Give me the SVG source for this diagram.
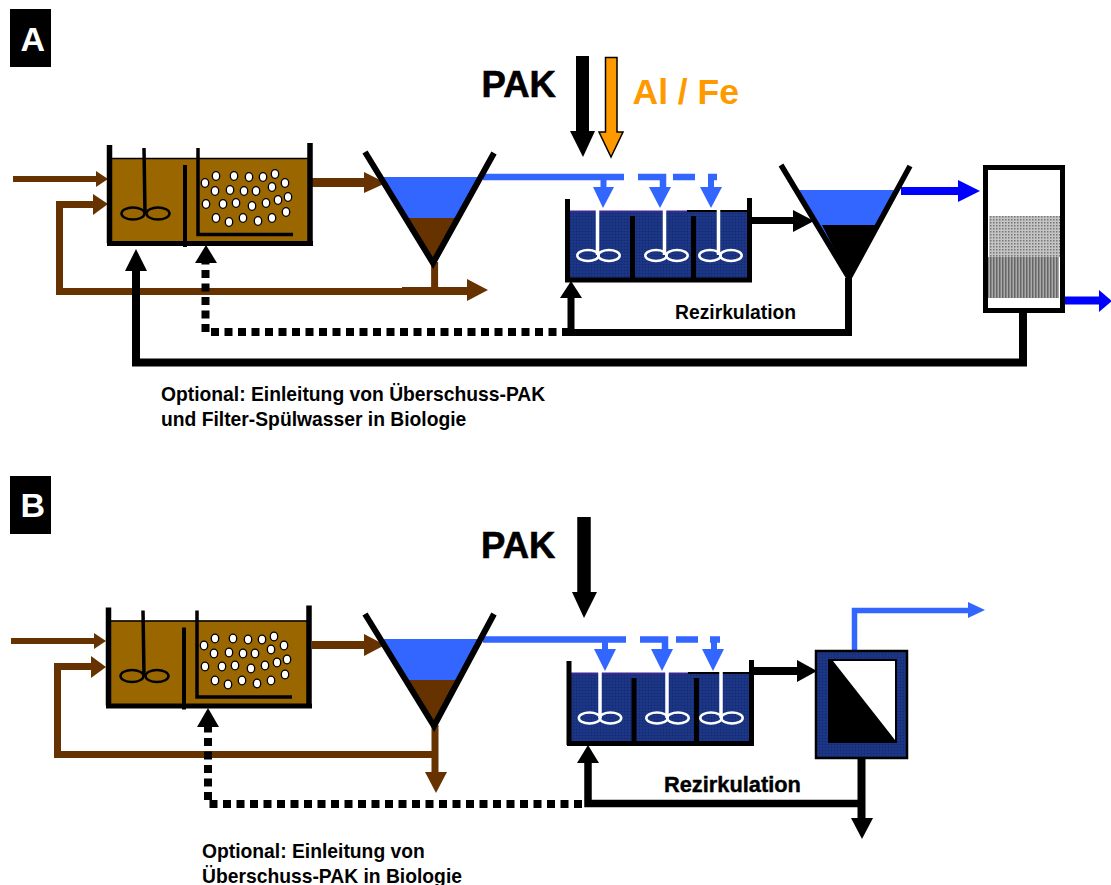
<svg xmlns="http://www.w3.org/2000/svg" width="1111" height="885" viewBox="0 0 1111 885">
<style>
text{font-family:"Liberation Sans",Arial,sans-serif;font-weight:bold;fill:#000}
.big{font-size:36.500px;stroke:#000;stroke-width:.6px}.sm{font-size:19.300px}.cap{font-size:34px;fill:#fff}.rz{font-size:19.300px}
.rzb{font-size:21.800px;stroke:#000;stroke-width:.4px}
.k{fill:none;stroke:#000}
.br{fill:none;stroke:#663300}
.bl{fill:none;stroke:#3366ff}
.wht{fill:none;stroke:#fff;stroke-width:3.500}
.fb{fill:#663300}.fl{fill:#3366ff}.fu{fill:#0000ff}
</style>
<defs>
<pattern id="nv" width="3" height="3" patternUnits="userSpaceOnUse"><rect width="3" height="3" fill="#1a3380"/><rect width="1" height="1" fill="#0f2a78"/><rect x="1.500" y="1.500" width="1" height="1" fill="#27408f"/></pattern>
<pattern id="dots" width="3" height="3" patternUnits="userSpaceOnUse"><rect width="3" height="3" fill="#c4c4c4"/><rect width="1.500" height="1.500" fill="#777"/></pattern>
<pattern id="stripes" width="3" height="3" patternUnits="userSpaceOnUse"><rect width="3" height="3" fill="#aaa"/><rect width="1.500" height="3" fill="#666"/></pattern>
<g id="bio">
<rect x="111" y="158" width="199" height="84" fill="#996600"/>
<path d="M111 158.500H309" stroke="#000" stroke-width="1.500" fill="none"/>
<path class="k" stroke-width="5.500" d="M109.500 145V243M310 143V243"/>
<path class="k" stroke-width="5" d="M107 243.500H313"/>
<path class="k" stroke-width="3.500" d="M144 148L145 214"/>
<ellipse cx="133" cy="213.500" rx="11.500" ry="6" fill="none" stroke="#000" stroke-width="2.500"/>
<ellipse cx="158" cy="213.500" rx="11.500" ry="6" fill="none" stroke="#000" stroke-width="2.500"/>
<path class="k" stroke-width="4" d="M185 165V247"/>
<path class="k" stroke-width="3.500" d="M198 148V234.500H293"/>
<g fill="#fff" stroke="#000" stroke-width="1.300">
<ellipse cx="216" cy="176" rx="3.700" ry="4.300"/><ellipse cx="234" cy="176" rx="3.700" ry="4.300"/><ellipse cx="249" cy="177" rx="3.700" ry="4.300"/><ellipse cx="263" cy="177" rx="3.700" ry="4.300"/><ellipse cx="275" cy="174" rx="3.700" ry="4.300"/><ellipse cx="205" cy="183" rx="3.700" ry="4.300"/><ellipse cx="285" cy="183" rx="3.700" ry="4.300"/><ellipse cx="215" cy="191" rx="3.700" ry="4.300"/><ellipse cx="230" cy="190" rx="3.700" ry="4.300"/><ellipse cx="244" cy="191" rx="3.700" ry="4.300"/><ellipse cx="256" cy="191" rx="3.700" ry="4.300"/><ellipse cx="272" cy="187" rx="3.700" ry="4.300"/><ellipse cx="206" cy="204" rx="3.700" ry="4.300"/><ellipse cx="223" cy="204" rx="3.700" ry="4.300"/><ellipse cx="236" cy="203" rx="3.700" ry="4.300"/><ellipse cx="252" cy="206" rx="3.700" ry="4.300"/><ellipse cx="266" cy="203" rx="3.700" ry="4.300"/><ellipse cx="278" cy="200" rx="3.700" ry="4.300"/><ellipse cx="288" cy="197" rx="3.700" ry="4.300"/><ellipse cx="286" cy="212" rx="3.700" ry="4.300"/><ellipse cx="216" cy="218" rx="3.700" ry="4.300"/><ellipse cx="229" cy="222" rx="3.700" ry="4.300"/><ellipse cx="243" cy="218" rx="3.700" ry="4.300"/><ellipse cx="258" cy="221" rx="3.700" ry="4.300"/><ellipse cx="272" cy="218" rx="3.700" ry="4.300"/>
</g>
</g>
<g id="pad"><ellipse cx="-10.500" cy="0" rx="10.700" ry="5.500" fill="none" stroke="#fff" stroke-width="2.500"/><ellipse cx="10.500" cy="0" rx="10.700" ry="5.500" fill="none" stroke="#fff" stroke-width="2.500"/></g>
</defs>
<rect width="1111" height="885" fill="#fff"/>

<g id="label-a"><rect x="10" y="9" width="41" height="58" fill="#000"/><text class="cap" x="20.500" y="51">A</text></g>
<g id="label-b"><rect x="10" y="476" width="41" height="58" fill="#000"/><text class="cap" x="20.500" y="517">B</text></g>

<g id="connectors">
<!-- panel A -->
<path class="br" stroke-width="6" d="M13 179H100"/>
<path class="br" stroke-width="7" d="M97 204.500H59.500V291.500H470"/>
<path class="br" stroke-width="9" d="M312 182.500H368"/>
<path class="br" stroke-width="7" d="M434.600 262V291"/>
<path class="br" stroke-width="8" d="M402 291H470"/>
<path d="M108 179L96 171V187Z" class="fb"/>
<path d="M108 204L93 194V215Z" class="fb"/>
<path d="M386 183L364 172V193Z" class="fb"/>
<path d="M488 290L467 279V301Z" class="fb"/>
<path class="k" stroke-width="8" d="M1023 311V362.500H136V268"/>
<path d="M136 249L125 271H147Z"/>
<path class="k" stroke-width="8" stroke-dasharray="8 5.500" d="M570 332H205.500V262"/>
<path d="M206 245L195 263H217Z"/>
<path class="k" stroke-width="7" d="M848.500 278V332.500H567"/>
<path class="k" stroke-width="7" d="M571 332V296"/>
<path d="M571 281L560 298H582Z"/>
<path class="k" stroke-width="7" d="M752 220.500H798"/>
<path d="M814 221L793 210V232Z"/>
<path stroke="#0000ff" stroke-width="8" fill="none" d="M901 191H960"/>
<path d="M980 191L958 180V202Z" class="fu"/>
<path stroke="#0000ff" stroke-width="8" fill="none" d="M1064 300.500H1101"/>
<path d="M1112 301L1099 290V312Z" class="fu"/>
<path class="bl" stroke-width="6.500" d="M483 177H624M638 177H663V190M673 177H695M708 177H717"/>
<path class="bl" stroke-width="6" d="M603.500 178V190M711 176V190"/>
<path d="M603 208L593 187H614Z" class="fl"/><path d="M660 208L649 187H671Z" class="fl"/><path d="M711 208L700 187H722Z" class="fl"/>
<path stroke="#000" stroke-width="13" fill="none" d="M582.500 56V133"/>
<path d="M583 157L570 131H595Z"/>
<path d="M605.500 57.500H617V132H623L611 157L599 132H605.500Z" fill="#ff9900" stroke="#000" stroke-width="1.500"/>

<!-- panel B -->
<path class="br" stroke-width="6" d="M11 641H98"/>
<path class="br" stroke-width="7" d="M95 666.500H57.500V754.500H435"/>
<path class="br" stroke-width="8" d="M312 645H368"/>
<path class="br" stroke-width="7" d="M435 725V775"/>
<path d="M106 641L94 633V649Z" class="fb"/>
<path d="M106 667L91 656V678Z" class="fb"/>
<path d="M385 645L364 634V656Z" class="fb"/>
<path d="M436 793L425 772H447Z" class="fb"/>
<path class="k" stroke-width="8" stroke-dasharray="8 5.500" d="M582 804H208V727"/>
<path d="M208 708L197 727H219Z"/>
<path class="k" stroke-width="7.500" d="M861 803.500H588V762"/>
<path d="M588 745L577 763H599Z"/>
<path class="k" stroke-width="8" d="M861.500 758V822"/>
<path d="M862 839L851 818H873Z"/>
<path class="k" stroke-width="8" d="M754 671H800"/>
<path d="M817 671L797 660V682Z"/>
<path class="bl" stroke-width="5.500" d="M854.500 652V610.500H972"/>
<path d="M985 610L968 602V618Z" class="fl"/>
<path class="bl" stroke-width="6.500" d="M483 639.500H626M640 639.500H665V652M676 639.500H698M710 639.500H720"/>
<path class="bl" stroke-width="6" d="M605 640V652M714 640V652"/>
<path d="M605 671L594 649H616Z" class="fl"/><path d="M662 671L651 649H673Z" class="fl"/><path d="M713 671L702 649H724Z" class="fl"/>
<path stroke="#000" stroke-width="13.500" fill="none" d="M584 517V595"/>
<path d="M584 618L572 592H597Z"/>
</g>

<g id="bio-a"><use href="#bio"/></g>
<g id="clarifier-a1">
<path d="M380 177H482L459 218H405Z" fill="#3366ff"/><path d="M405 218H459L433 263Z" fill="#663300"/>
<path class="k" stroke-width="6" d="M365 152L433 263L494 153"/>
</g>
<g id="tank-a">
<rect x="569" y="211" width="178" height="68" fill="url(#nv)"/>
<path d="M569 211.500H687" stroke="#3a2a90" stroke-width="2" fill="none"/>
<path d="M687 211H748" stroke="#000" stroke-width="2" fill="none"/>
<path class="k" stroke-width="5" d="M567.500 199V282M749.500 198V282M565 280H752M632.500 216V282M693.500 216V282"/>
<path class="wht" d="M597.500 208V255M664.500 208V255M718.500 208V255"/>
<use href="#pad" x="598.500" y="255.500"/><use href="#pad" x="666.500" y="255.500"/><use href="#pad" x="720.500" y="255.500"/>
</g>
<g id="clarifier-a2">
<path d="M796 190H897L849 277Z" fill="#3366ff"/><path d="M822 225H876L849 278Z" fill="#000"/>
<path class="k" stroke-width="5.500" d="M781 165L849 278L910 166"/>
</g>
<g id="filter-a">
<rect x="986" y="167" width="76" height="143" fill="#fff"/>
<rect x="989" y="216" width="71" height="41" fill="url(#dots)"/>
<rect x="988" y="257" width="71" height="41" fill="url(#stripes)"/>
<rect x="985.500" y="167.500" width="77" height="143" fill="none" stroke="#000" stroke-width="5"/>
</g>
<text class="big" x="481.500" y="97">PAK</text>
<text x="632.500" y="104" style="fill:#ff9900;font-size:35.500px">Al / Fe</text>
<text class="rz" x="675" y="319">Rezirkulation</text>
<text class="sm" x="161" y="401">Optional: Einleitung von Überschuss-PAK</text>
<text class="sm" x="161" y="426">und Filter-Spülwasser in Biologie</text>

<g id="bio-b"><use href="#bio" x="-1" y="462.500"/></g>
<g id="clarifier-b">
<path d="M380 639H482L458 680H405Z" fill="#3366ff"/><path d="M405 680H458L434 726Z" fill="#663300"/>
<path class="k" stroke-width="6" d="M365 614L434 726L494 614"/>
</g>
<g id="tank-b">
<rect x="571" y="673" width="178" height="69" fill="url(#nv)"/>
<path d="M571 673.500H688" stroke="#3a2a90" stroke-width="2" fill="none"/>
<path d="M688 673H750" stroke="#000" stroke-width="2" fill="none"/>
<path class="k" stroke-width="5" d="M569 661V745M751.500 660V745M567 743.500H754M634 678V745M696.500 678V745"/>
<path class="wht" d="M600 671V718M667 671V718M721 671V718"/>
<use href="#pad" x="600" y="718"/><use href="#pad" x="667.500" y="718"/><use href="#pad" x="721.500" y="718"/>
</g>
<g id="membrane">
<rect x="816" y="651" width="91" height="107" fill="url(#nv)" stroke="#000" stroke-width="2.500"/>
<rect x="828" y="659" width="69" height="84" fill="#000"/>
<path d="M833 661H895V740Z" fill="#fff"/>
</g>
<text class="big" x="481" y="558">PAK</text>
<text class="rzb" x="664" y="792">Rezirkulation</text>
<text class="sm" x="202" y="858">Optional: Einleitung von</text>
<text class="sm" x="202" y="883">Überschuss-PAK in Biologie</text>
</svg>
